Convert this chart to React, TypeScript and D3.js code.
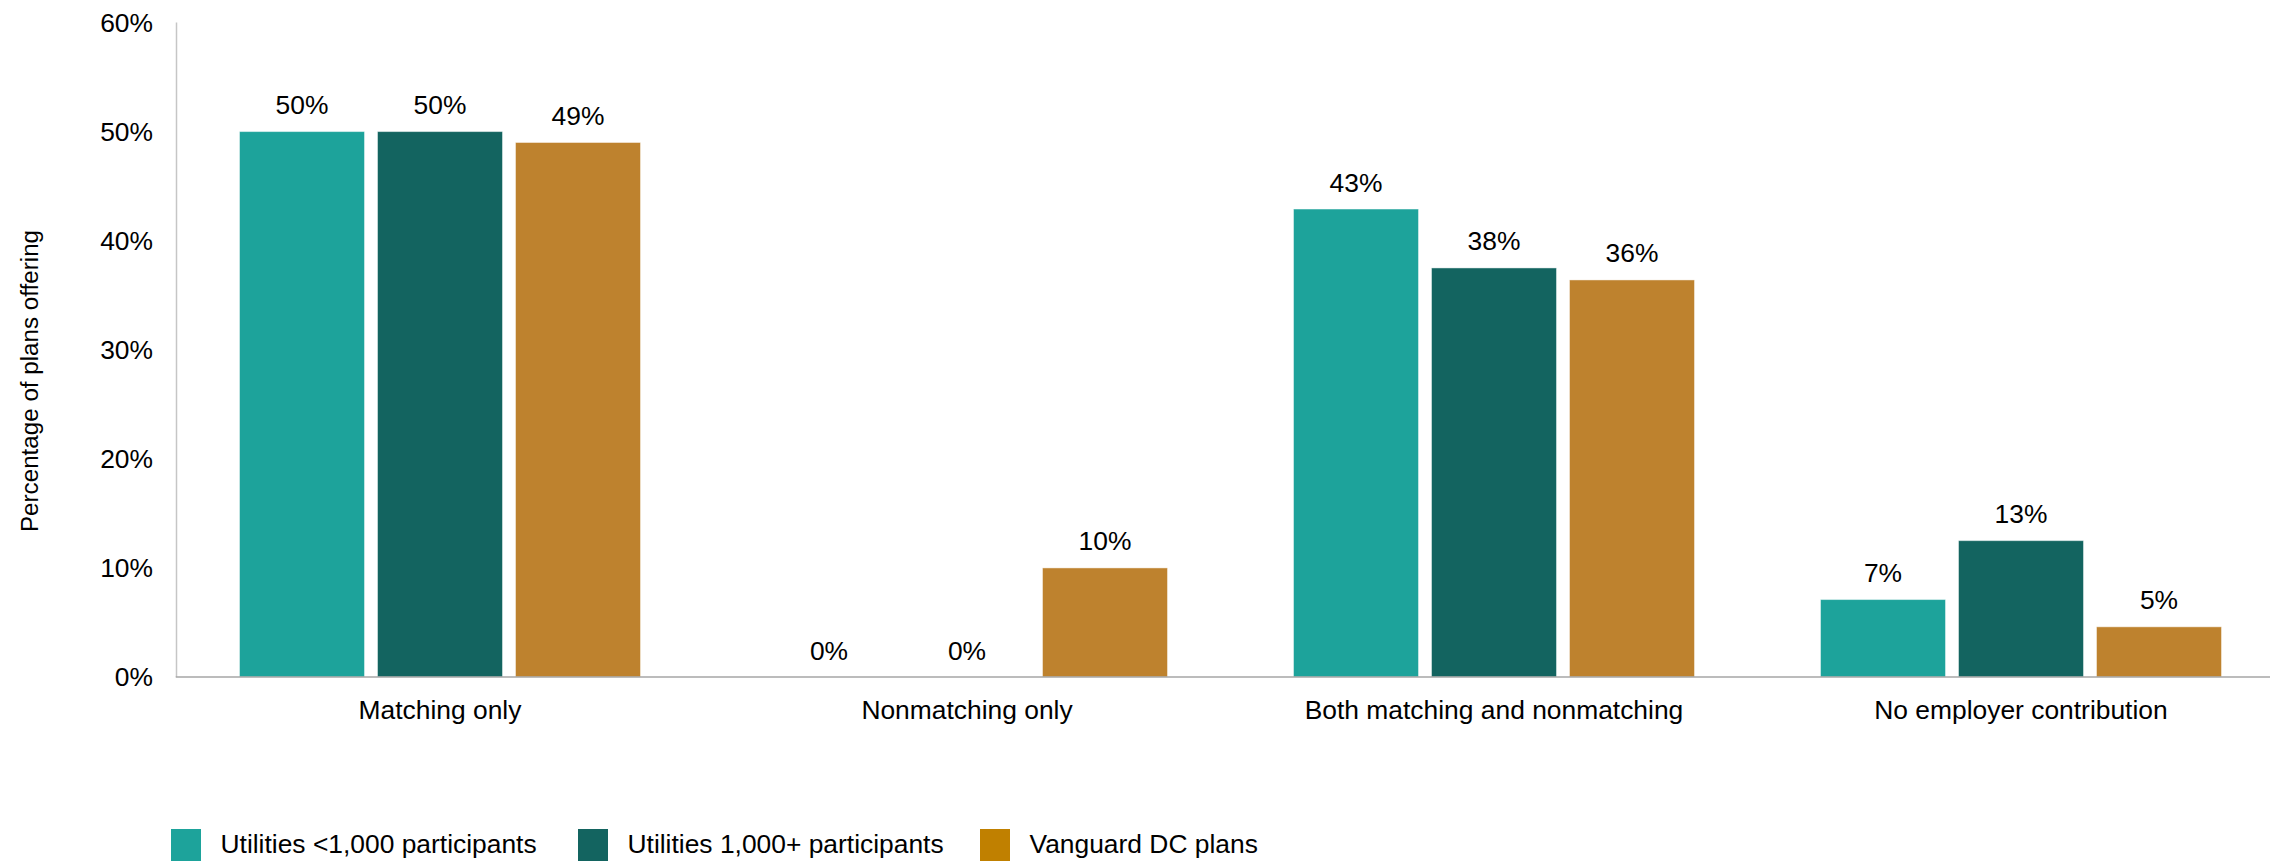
import React from "react";
import * as d3 from "d3";

const categories = [
  "Matching only",
  "Nonmatching only",
  "Both matching and nonmatching",
  "No employer contribution",
];
const seriesNames = [
  "Utilities <1,000 participants",
  "Utilities 1,000+ participants",
  "Vanguard DC plans",
];
const utilitiesSmall = [50, 0, 42.9, 7.1];
const utilitiesLarge = [50, 0, 37.5, 12.5];
const vanguardAll = [49, 10, 36.4, 4.6];
const yTicks = [0, 10, 20, 30, 40, 50, 60];

const barColors = ["#1DA39B", "#136460", "#BE822E"];
const legendColors = ["#1DA39B", "#136460", "#C08000"];

const W = 2270;
const H = 861;
const FONT = "'Liberation Sans', Arial, Helvetica, sans-serif";

export default function App() {
  const seriesValues = [utilitiesSmall, utilitiesLarge, vanguardAll];
  const axisX = 176.5;
  const band = 527;
  const x0 = d3
    .scaleBand<string>()
    .domain(categories)
    .range([axisX, axisX + band * categories.length])
    .padding(0);
  const x1 = d3
    .scaleBand<string>()
    .domain(seriesNames)
    .range([0, band])
    .paddingInner(13 / 138)
    .paddingOuter(0.4566);
  const y = d3.scaleLinear().domain([0, 60]).range([677, 22.5]);

  const legendX = [171, 578, 980];

  return (
    <svg
      width={W}
      height={H}
      style={{ position: "absolute", left: 0, top: 0, display: "block", background: "#fff" }}
      fontFamily={FONT}
    >
      <rect x={0} y={0} width={W} height={H} fill="#fff" />
      {/* y tick labels */}
      {yTicks.map((t) => (
        <text
          key={t}
          x={153}
          y={y(t)}
          dy="0.35em"
          textAnchor="end"
          fontSize={26.4}
          fill="#000"
        >
          {t}%
        </text>
      ))}
      {/* y axis title */}
      <text
        transform={`translate(38,381) rotate(-90)`}
        textAnchor="middle"
        fontSize={24.2}
        fill="#000"
      >
        Percentage of plans offering
      </text>
      {/* bars */}
      {categories.map((c, ci) => (
        <g key={c} transform={`translate(${x0(c)},0)`}>
          {seriesNames.map((s, si) => {
            const v = seriesValues[si][ci];
            const bx = x1(s) as number;
            const bw = x1.bandwidth();
            return (
              <g key={s}>
                {v > 0 && (
                  <rect
                    x={bx}
                    y={y(v)}
                    width={bw}
                    height={y(0) - y(v)}
                    fill={barColors[si]}
                    stroke="rgba(255,255,255,0.45)"
                    strokeWidth={1}
                  />
                )}
                <text
                  x={bx + bw / 2}
                  y={y(v) - 17.5}
                  textAnchor="middle"
                  fontSize={26.4}
                  fill="#000"
                >
                  {Math.round(v)}%
                </text>
              </g>
            );
          })}
          <text
            x={band / 2}
            y={718.5}
            textAnchor="middle"
            fontSize={26.4}
            fill="#000"
          >
            {c}
          </text>
        </g>
      ))}
      {/* axes */}
      <line x1={axisX} x2={axisX} y1={y(60)} y2={y(0)} stroke="#C6C6C6" strokeWidth={1.5} />
      <line x1={axisX - 0.75} x2={W} y1={y(0)} y2={y(0)} stroke="#A6A6A6" strokeWidth={1.5} />
      {/* legend */}
      {seriesNames.map((s, i) => (
        <g key={s} transform={`translate(${legendX[i]},0)`}>
          <rect x={0} y={829} width={30} height={32} fill={legendColors[i]} />
          <text x={49.5} y={853} fontSize={26.4} fill="#000">
            {s}
          </text>
        </g>
      ))}
    </svg>
  );
}
